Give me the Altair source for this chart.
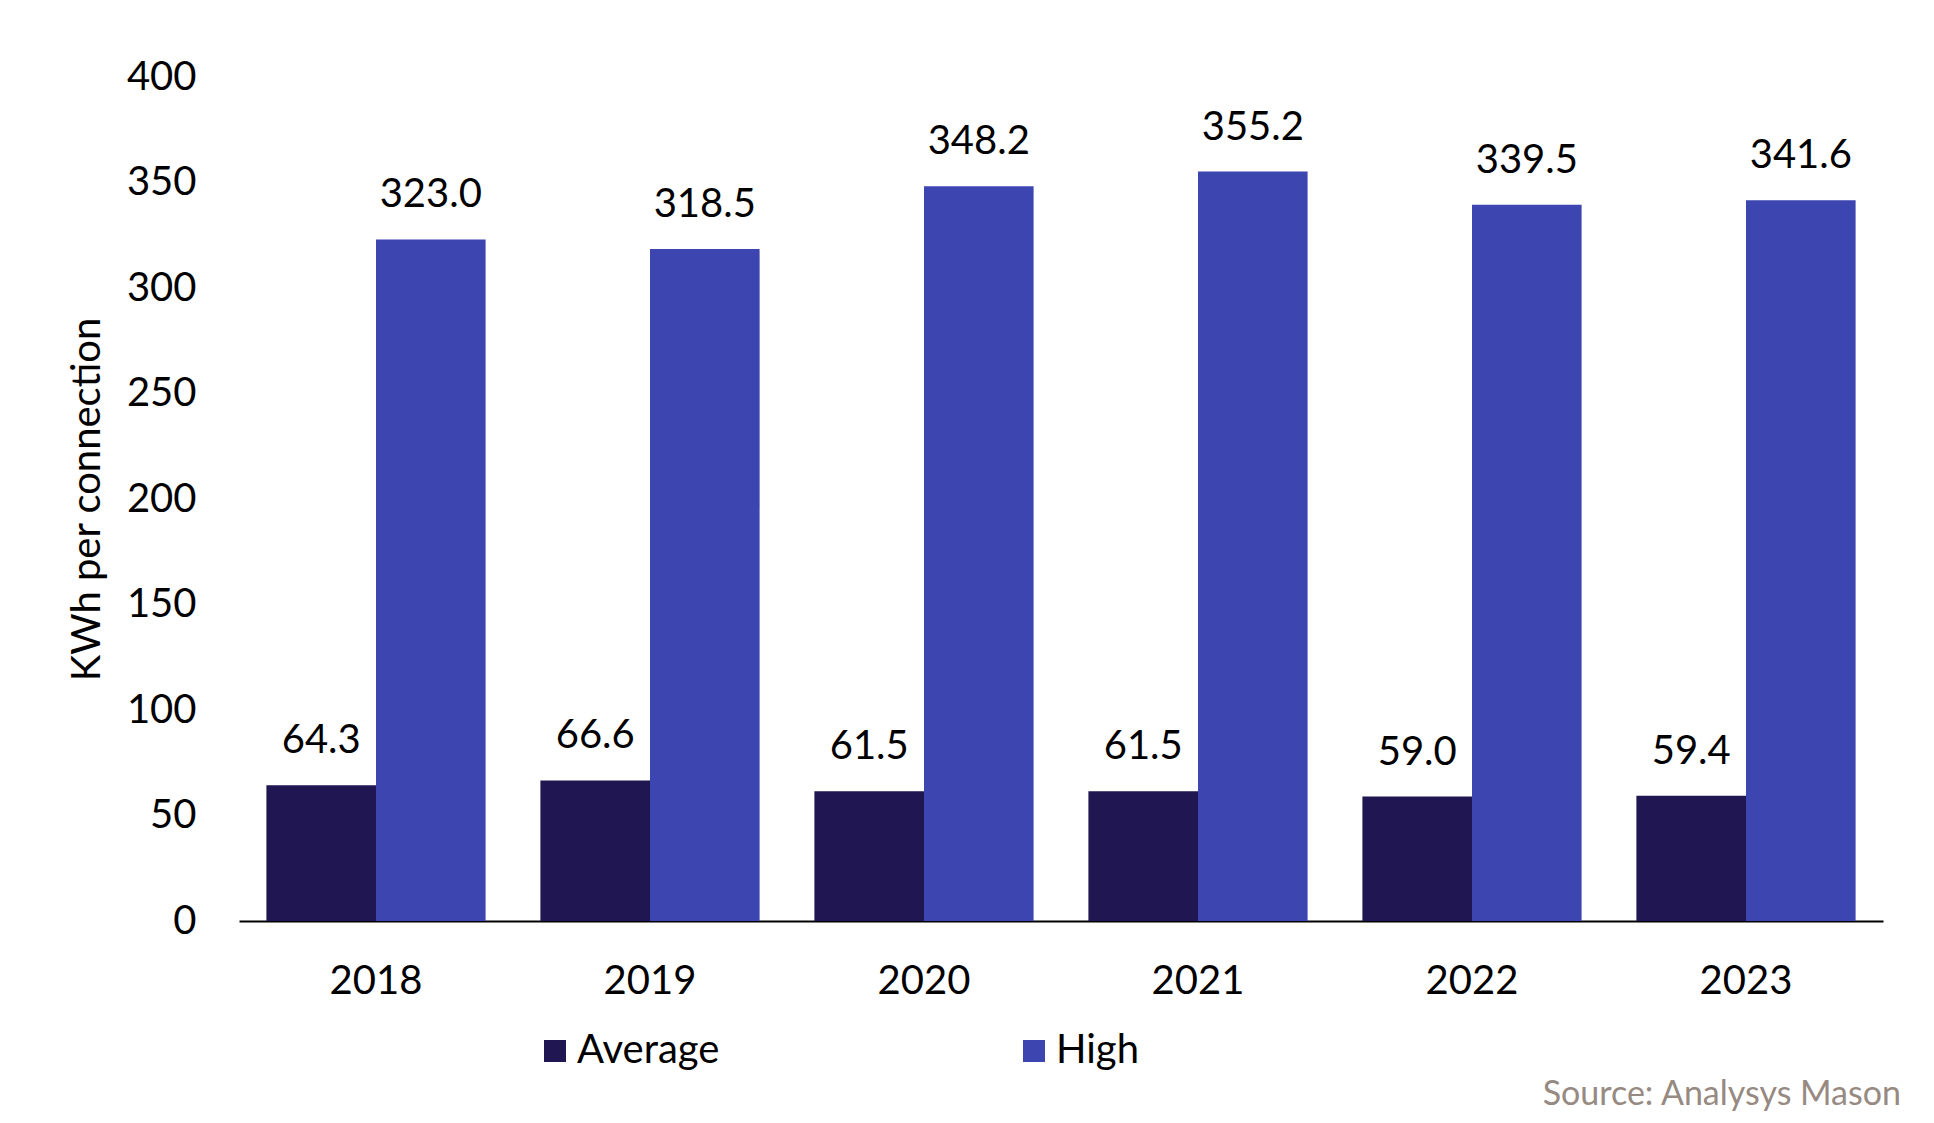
import altair as alt
import pandas as pd

years = ["2018", "2019", "2020", "2021", "2022", "2023"]
series = ["Average", "High"]
average = [64.3, 66.6, 61.5, 61.5, 59.0, 59.4]
high = [323.0, 318.5, 348.2, 355.2, 339.5, 341.6]
y_ticks = [0, 50, 100, 150, 200, 250, 300, 350, 400]
colors = ["#201651", "#3c45b0"]

rows = []
for i, yr in enumerate(years):
    rows.append({"year": yr, "series": "Average", "value": average[i]})
    rows.append({"year": yr, "series": "High", "value": high[i]})
df = pd.DataFrame(rows)

FONT = "Lato"
W, H = 1644, 844

base = alt.Chart(df).encode(
    x=alt.X(
        "year:N",
        sort=years,
        scale=alt.Scale(paddingInner=0.2, paddingOuter=0.1),
        axis=alt.Axis(
            title=None,
            labelAngle=0,
            ticks=False,
            domainColor="black",
            domainWidth=2,
            labelFontSize=40,
            labelFont=FONT,
            labelColor="black",
            labelPadding=40,
        ),
    ),
    xOffset=alt.XOffset("series:N", sort=series, scale=alt.Scale(paddingInner=0, paddingOuter=0)),
    y=alt.Y(
        "value:Q",
        scale=alt.Scale(domain=[0, 400], nice=False),
        axis=alt.Axis(
            values=y_ticks,
            grid=False,
            domain=False,
            ticks=False,
            title="KWh per connection",
            titleFont=FONT,
            titleFontSize=40,
            titleFontWeight="normal",
            titleColor="black",
            titleX=-152,
            titleY=H / 2,
            titleAngle=-90,
            titleBaseline="middle",
            titleAlign="center",
            labelFontSize=40,
            labelFont=FONT,
            labelColor="black",
            labelPadding=43,
        ),
    ),
)

bars = base.mark_bar().encode(
    color=alt.Color(
        "series:N",
        sort=series,
        scale=alt.Scale(domain=series, range=colors),
        legend=alt.Legend(
            title=None,
            orient="none",
            direction="horizontal",
            legendX=296,
            legendY=954,
            symbolType="square",
            symbolSize=484,
            symbolStrokeWidth=0,
            labelFont=FONT,
            labelFontSize=40,
            labelColor="black",
            labelOffset=2,
            columnPadding=294,
        ),
    )
)

labels = base.mark_text(dy=-32, baseline="alphabetic", fontSize=40, font=FONT, color="black").encode(
    text=alt.Text("value:Q", format=".1f")
)

chart = (
    alt.layer(bars, labels)
    .properties(
        width=W,
        height=H,
        autosize=alt.AutoSizeParams(type="none"),
        padding={"left": 231, "top": 69, "right": 43, "bottom": 194},
        title=alt.TitleParams(
            "Source: Analysys Mason",
            orient="bottom",
            anchor="end",
            frame="group",
            font=FONT,
            fontSize=34,
            fontWeight="normal",
            color="#968a82",
            offset=7,
            dx=18,
        ),
    )
    .configure_view(stroke=None)
)

chart.save("out.html", embed_options={"renderer": "svg", "actions": False})
